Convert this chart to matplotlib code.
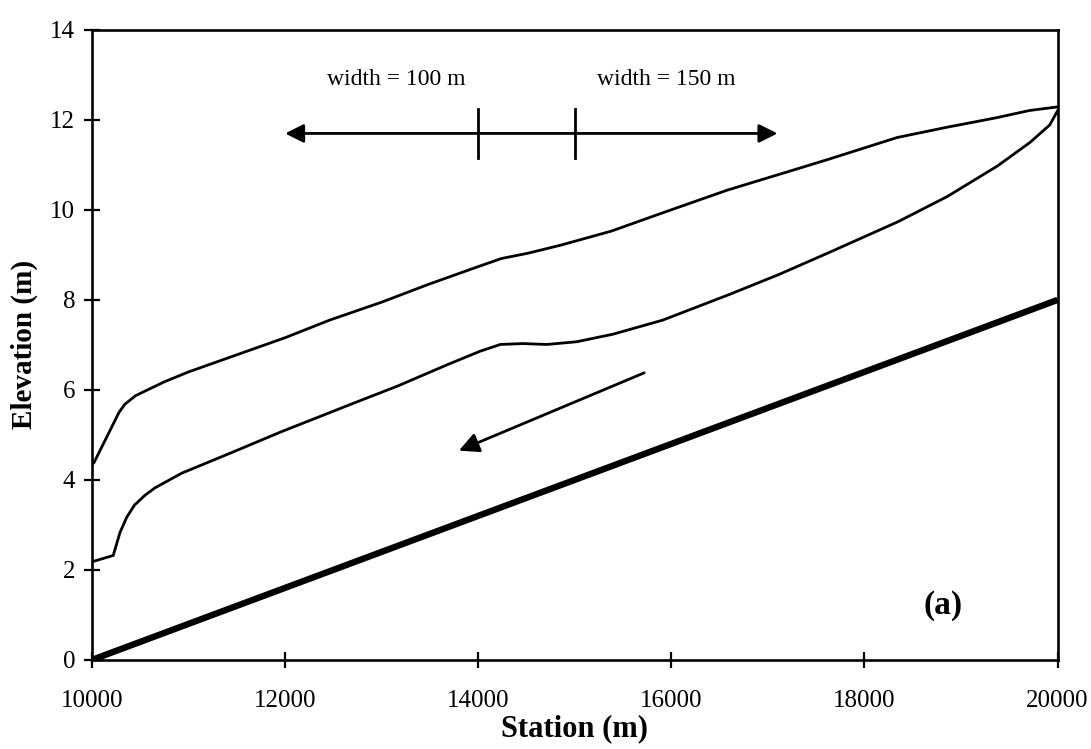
import matplotlib
matplotlib.use("Agg")
import matplotlib.pyplot as plt

plt.rcParams["font.family"] = ["Liberation Serif", "DejaVu Serif"]

# Channel bed profile (station m, elevation m)
bed_x = [10000, 20000]
bed_y = [0.0, 8.0]

# Upper water-surface profile
upper_x = [10000, 10020, 10280, 10340, 10450, 10575, 10750, 11000, 11500, 12000,
           12460, 13000, 13490, 14000, 14240, 14520, 14860, 15380, 15890, 16580,
           17300, 17620, 18340, 18860, 19370, 19710, 20000]
upper_y = [4.35, 4.38, 5.50, 5.68, 5.87, 6.00, 6.18, 6.40, 6.78, 7.16,
           7.55, 7.95, 8.35, 8.74, 8.92, 9.04, 9.22, 9.53, 9.92, 10.44,
           10.91, 11.12, 11.61, 11.84, 12.05, 12.21, 12.29]

# Lower water-surface profile
lower_x = [10000, 10220, 10290, 10360, 10440, 10550, 10650, 10930, 11450, 11960,
           12480, 12680, 13170, 13680, 14020, 14230, 14460, 14710, 15020, 15400,
           15910, 16600, 17120, 17630, 18350, 18860, 19380, 19715, 19920, 20000]
lower_y = [2.18, 2.32, 2.83, 3.17, 3.44, 3.66, 3.82, 4.15, 4.61, 5.07,
           5.51, 5.68, 6.09, 6.56, 6.86, 7.01, 7.03, 7.01, 7.07, 7.24,
           7.55, 8.12, 8.57, 9.05, 9.74, 10.30, 10.98, 11.50, 11.89, 12.20]

x_ticks = [10000, 12000, 14000, 16000, 18000, 20000]
y_ticks = [0, 2, 4, 6, 8, 10, 12, 14]

# Channel width zones
width_arrow_x = [12000, 17100]
width_arrow_y = 11.7
width_breaks = [14000, 15000]
width_labels = ["width = 100 m", "width = 150 m"]
width_label_x = [13150, 15950]
width_label_y = 12.9

# Flow direction arrow (tail -> head)
flow_tail = (15720, 6.38)
flow_head = (13800, 4.65)

fig = plt.figure(figsize=(10.91, 7.49), dpi=100)
ax = fig.add_axes([0.0843, 0.119, 0.885, 0.841])

ax.plot(bed_x, bed_y, color="black", lw=4.6, solid_capstyle="butt")
ax.plot(upper_x, upper_y, color="black", lw=2.0, solid_joinstyle="round")
ax.plot(lower_x, lower_y, color="black", lw=2.0, solid_joinstyle="round")

ax.set_xlim(10000, 20000)
ax.set_ylim(0, 14)
ax.set_xticks(x_ticks)
ax.set_yticks(y_ticks)
ax.set_xticklabels([str(v) for v in x_ticks])
ax.set_yticklabels([str(v) for v in y_ticks])

for s in ax.spines.values():
    s.set_linewidth(1.9)
ax.tick_params(axis="both", direction="inout", length=12, width=1.6,
               labelsize=18, colors="black")
ax.tick_params(axis="x", pad=16)
ax.tick_params(axis="y", pad=6)

ax.set_xlabel("Station (m)", fontsize=22, fontweight="bold", labelpad=1)
ax.set_ylabel("Elevation (m)", fontsize=21, fontweight="bold", labelpad=9)

# Width zone arrow with break marks
ax.annotate("", xy=(width_arrow_x[1], width_arrow_y),
            xytext=(width_arrow_x[0], width_arrow_y),
            arrowprops=dict(arrowstyle="<|-|>", color="black", lw=2.0,
                            mutation_scale=28, shrinkA=0, shrinkB=0))
for bx in width_breaks:
    ax.plot([bx, bx], [width_arrow_y - 0.55, width_arrow_y + 0.55],
            color="black", lw=2.0)
for lx, lab in zip(width_label_x, width_labels):
    ax.text(lx, width_label_y, lab, fontsize=17, ha="center", va="center")

# Flow direction
ax.annotate("", xy=flow_head, xytext=flow_tail,
            arrowprops=dict(arrowstyle="-|>", color="black", lw=2.0,
                            mutation_scale=30, shrinkA=0, shrinkB=0))

ax.text(18810, 1.2, "(a)", fontsize=24, fontweight="bold",
        ha="center", va="center")

fig.savefig("out.png", dpi=100)
